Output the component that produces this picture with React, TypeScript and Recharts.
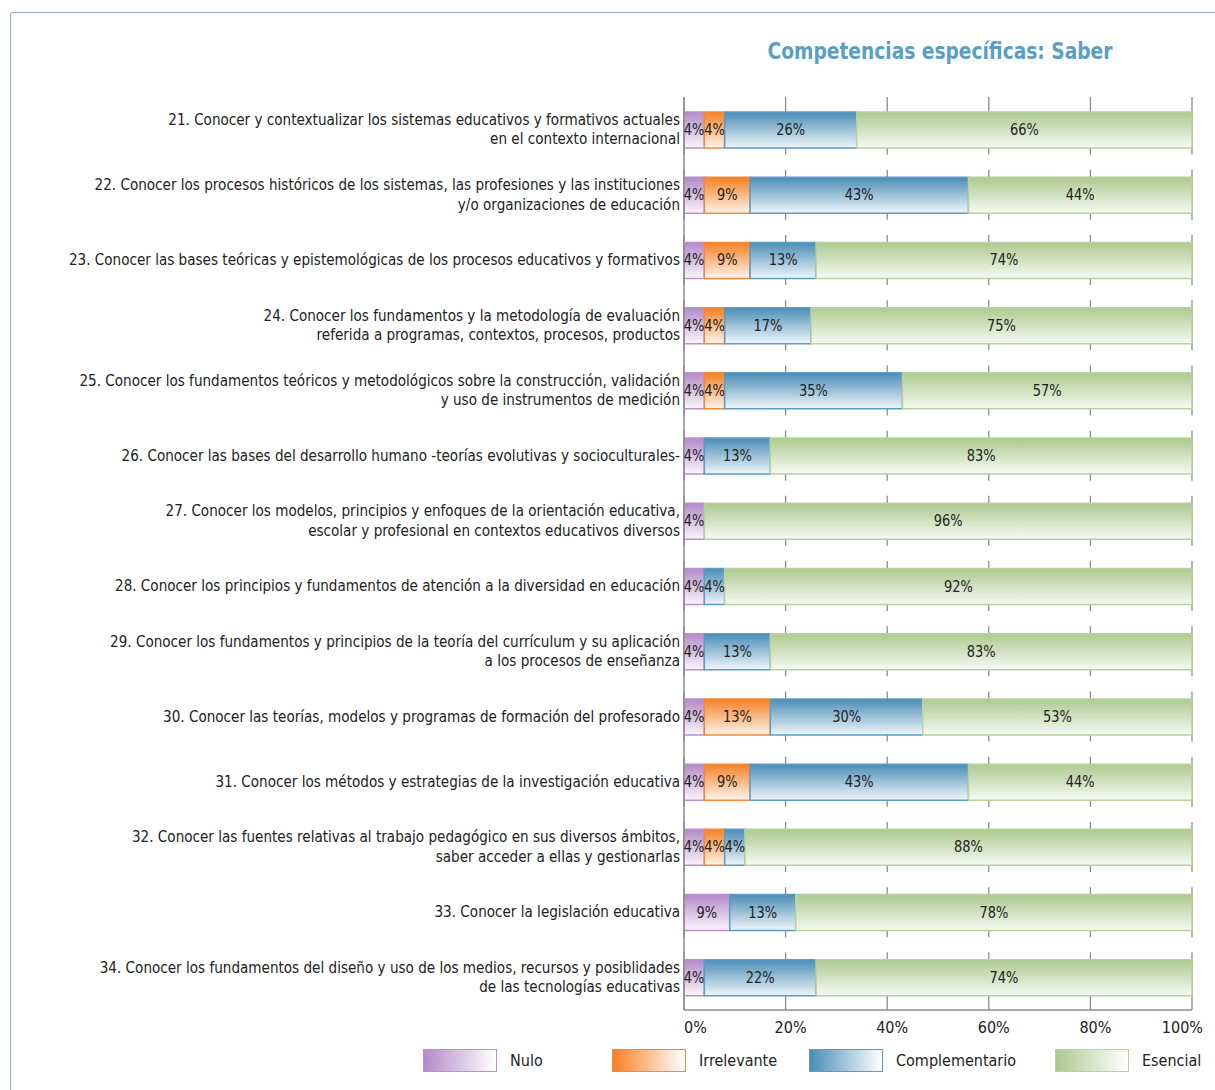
import React from "react";
import {
  BarChart,
  Bar,
  XAxis,
  YAxis,
  CartesianGrid,
  LabelList,
  Legend,
} from "recharts";

// competencias 21-34, "\n" marks the line break in the label
const categories = [
  "21. Conocer y contextualizar los sistemas educativos y formativos actuales\nen el contexto internacional",
  "22. Conocer los procesos históricos de los sistemas, las profesiones y las instituciones\ny/o organizaciones de educación",
  "23. Conocer las bases teóricas y epistemológicas de los procesos educativos y formativos",
  "24. Conocer los fundamentos y la metodología de evaluación\nreferida a programas, contextos, procesos, productos",
  "25. Conocer los fundamentos teóricos y metodológicos sobre la construcción, validación\ny uso de instrumentos de medición",
  "26. Conocer las bases del desarrollo humano -teorías evolutivas y socioculturales-",
  "27. Conocer los modelos, principios y enfoques de la orientación educativa,\nescolar y profesional en contextos educativos diversos",
  "28. Conocer los principios y fundamentos de atención a la diversidad en educación",
  "29. Conocer los fundamentos y principios de la teoría del currículum y su aplicación\na los procesos de enseñanza",
  "30. Conocer las teorías, modelos y programas de formación del profesorado",
  "31. Conocer los métodos y estrategias de la investigación educativa",
  "32. Conocer las fuentes relativas al trabajo pedagógico en sus diversos ámbitos,\nsaber acceder a ellas y gestionarlas",
  "33. Conocer la legislación educativa",
  "34. Conocer los fundamentos del diseño y uso de los medios, recursos y posiblidades\nde las tecnologías educativas",
];

const nulo = [4, 4, 4, 4, 4, 4, 4, 4, 4, 4, 4, 4, 9, 4];
const irrelevante = [4, 9, 9, 4, 4, 0, 0, 0, 0, 13, 9, 4, 0, 0];
const complementario = [26, 43, 13, 17, 35, 13, 0, 4, 13, 30, 43, 4, 13, 22];
const esencial = [66, 44, 74, 75, 57, 83, 96, 92, 83, 53, 44, 88, 78, 74];

const xTicks = [0, 20, 40, 60, 80, 100];

const series = [
  { key: "nulo", name: "Nulo", top: "#b38ac8", bottom: "#faf5fb", stroke: "#b990cc" },
  { key: "irrelevante", name: "Irrelevante", top: "#f58124", bottom: "#fff4ec", stroke: "#f28a38" },
  { key: "complementario", name: "Complementario", top: "#4a8db6", bottom: "#f0f6fa", stroke: "#5b9cc4" },
  { key: "esencial", name: "Esencial", top: "#adc98f", bottom: "#f7faf3", stroke: "#b7d29e" },
];

const data = categories.map((name, i) => ({
  name,
  nulo: nulo[i],
  irrelevante: irrelevante[i],
  complementario: complementario[i],
  esencial: esencial[i],
}));

const FONT = "'DejaVu Sans Condensed', 'DejaVu Sans', sans-serif";
const TEXT = "#222";

// plot box
const W = 1215;
const H = 1090;
const PLOT_TOP = 97;
const PLOT_H = 913;
const BAR = 36;
const rowH = PLOT_H / categories.length;

// grid lines only show as short pieces next to the bars
const edge = 7;
const hole = rowH - BAR - 2 * edge;
const outer = rowH / 2 - BAR / 2 + BAR + edge;
const gridDash = [outer];
for (let i = 1; i < categories.length; i++) {
  gridDash.push(hole, i === categories.length - 1 ? outer : 2 * edge + BAR);
}

const CategoryTick = (props: any) => {
  const { x, y, payload } = props;
  const lines = String(payload.value).split("\n");
  const lh = 19.5;
  return (
    <g transform={`translate(${x},${y}) scale(0.92,1)`}>
      <text x={0} y={0} textAnchor="end" fill={TEXT} fontSize={16.4} fontFamily={FONT}>
        {lines.map((l, i) => (
          <tspan key={i} x={0} dy={i === 0 ? -((lines.length - 1) / 2) * lh + 5 : lh}>
            {l}
          </tspan>
        ))}
      </text>
    </g>
  );
};

const XTick = (props: any) => {
  const { x, y, payload, index } = props;
  const last = index === xTicks.length - 1;
  const anchor = index === 0 ? "start" : last ? "end" : "middle";
  const tx = index === 0 ? x : last ? x + 11 : x + 5;
  return (
    <text x={tx} y={y} dy="0.71em" textAnchor={anchor} fill={TEXT} fontSize={16} fontFamily={FONT}>
      {`${payload.value}%`}
    </text>
  );
};

const BarValue = (props: any) => {
  const { x, y, width, height, value } = props;
  if (!value) return null;
  const cx = x + width / 2;
  const cy = y + height / 2 + 5;
  return (
    <g transform={`translate(${cx},${cy}) scale(0.88,1)`}>
      <text x={0} y={0} textAnchor="middle" fill={TEXT} fontSize={16.4} fontFamily={FONT}>
        {`${value}%`}
      </text>
    </g>
  );
};

const legendX = [423, 612, 809, 1055];

const LegendContent = () => (
  <div style={{ position: "relative", width: W, height: 40 }}>
    {series.map((s, i) => (
      <div
        key={s.key}
        style={{
          position: "absolute",
          left: legendX[i],
          top: 9,
          display: "flex",
          alignItems: "center",
          fontFamily: FONT,
          fontSize: 16,
          color: TEXT,
        }}
      >
        <div
          style={{
            width: 72,
            height: 21,
            border: `1.5px solid ${s.stroke}`,
            background: `linear-gradient(to right, ${s.top}, #ffffff)`,
            marginRight: 13,
          }}
        />
        <span>{s.name}</span>
      </div>
    ))}
  </div>
);

export default function App() {
  return (
    <div style={{ position: "absolute", left: 0, top: 0, width: W, height: H, background: "#fff" }}>
      <div
        style={{
          position: "absolute",
          left: 10,
          top: 12,
          right: 0,
          bottom: 0,
          borderTop: "1.5px solid #93b3c9",
          borderLeft: "1.5px solid #93b3c9",
          borderTopLeftRadius: 3,
        }}
      />
      <div
        style={{
          position: "absolute",
          left: 700,
          width: 480,
          top: 38,
          textAlign: "center",
          fontFamily: FONT,
          fontWeight: "bold",
          fontSize: 23,
          color: "#5a9fc2",
          transform: "scaleX(0.9)",
        }}
      >
        Competencias específicas: Saber
      </div>
      <BarChart
        width={W}
        height={H}
        data={data}
        layout="vertical"
        barSize={BAR}
        margin={{ top: PLOT_TOP, right: 23, bottom: 10, left: 0 }}
        style={{ position: "absolute", left: 0, top: 0 }}
      >
        <defs>
          {series.map((s) => (
            <linearGradient key={s.key} id={`g-${s.key}`} x1="0" y1="0" x2="0" y2="1">
              <stop offset="0%" stopColor={s.top} />
              <stop offset="100%" stopColor={s.bottom} />
            </linearGradient>
          ))}
        </defs>
        <CartesianGrid
          horizontal={false}
          stroke="#8c8c8c"
          strokeWidth={1.3}
          strokeDasharray={gridDash.map((v) => v.toFixed(2)).join(" ")}
        />
        <XAxis
          type="number"
          domain={[0, 100]}
          ticks={xTicks}
          axisLine={{ stroke: "#8c8c8c", strokeWidth: 1.5 }}
          tickLine={false}
          tickMargin={6}
          height={30}
          tick={<XTick />}
        />
        <YAxis
          type="category"
          dataKey="name"
          width={684}
          interval={0}
          axisLine={{ stroke: "#8c8c8c", strokeWidth: 1.5 }}
          tickLine={false}
          tickSize={0}
          tickMargin={4}
          tick={<CategoryTick />}
        />
        <Legend verticalAlign="bottom" content={<LegendContent />} wrapperStyle={{ left: 0, width: W, height: 40 }} />
        {series.map((s) => (
          <Bar
            key={s.key}
            dataKey={s.key}
            name={s.name}
            stackId="a"
            fill={`url(#g-${s.key})`}
            stroke={s.stroke}
            strokeWidth={1.5}
            isAnimationActive={false}
          >
            <LabelList dataKey={s.key} content={<BarValue />} />
          </Bar>
        ))}
      </BarChart>
    </div>
  );
}
